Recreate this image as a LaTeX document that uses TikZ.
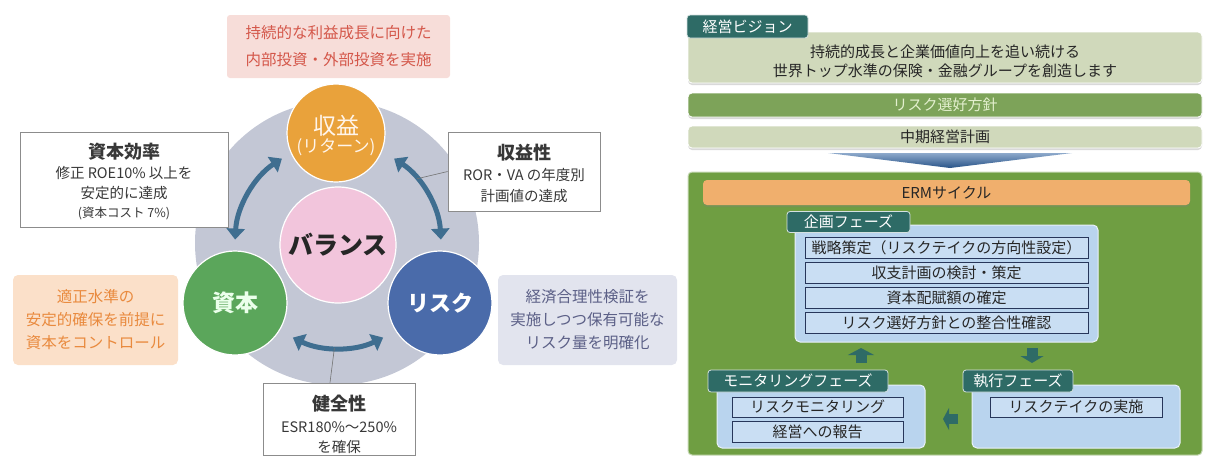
\documentclass[tikz,border=0pt]{standalone}
\usepackage{fontspec}
\setmainfont{Noto Sans CJK JP}
\usetikzlibrary{arrows.meta,shadows}
\definecolor{ringgray}{HTML}{C3C7D5}
\definecolor{retorange}{HTML}{E9A23B}
\definecolor{capgreen}{HTML}{5BA65B}
\definecolor{riskblue}{HTML}{4A6BAA}
\definecolor{balpink}{HTML}{F2C5DC}
\definecolor{arrblue}{HTML}{3F6E90}
\definecolor{pinkfill}{HTML}{F7DDD9}
\definecolor{pinktext}{HTML}{D4574A}
\definecolor{peachfill}{HTML}{FBE0C9}
\definecolor{peachtext}{HTML}{E98A3E}
\definecolor{slatefill}{HTML}{E2E4EE}
\definecolor{slatetext}{HTML}{5C6087}
\definecolor{boxtext}{HTML}{383838}
\definecolor{tabteal}{HTML}{2E6B66}
\definecolor{sage}{HTML}{D0D9BB}
\definecolor{olive}{HTML}{7DA359}
\definecolor{olivetext}{HTML}{E4F0CF}
\definecolor{ermgreen}{HTML}{6F9E42}
\definecolor{ermorange}{HTML}{F0AF6D}
\definecolor{panelblue}{HTML}{B9D4EE}
\definecolor{itemblue}{HTML}{C9DEF3}
\definecolor{navy}{HTML}{27365A}
\definecolor{chevblue}{HTML}{2F62A0}
\tikzset{
  disc/.style={circle, inner sep=0pt, draw=white, line width=1.2pt},
  cyc/.style={arrblue, line width=5pt, {Triangle[length=11pt,width=18pt]}-{Triangle[length=11pt,width=18pt]}},
  leader/.style={draw=black!55, line width=0.6pt},
  wbox/.style={draw=black!45, fill=white, line width=0.8pt, inner sep=0pt},
  wtext/.style={align=center, text=boxtext, inner sep=0pt},
  softbox/.style={rounded corners=5pt, align=center, inner sep=0pt},
  tabnode/.style={fill=tabteal, draw=white!80!tabteal, line width=0.8pt, rounded corners=3pt, text=white, inner sep=0pt, font=\fontsize{15}{15}\selectfont},
  bar/.style={rounded corners=4pt, draw=white, line width=0.8pt, inner sep=0pt, align=center, drop shadow={shadow xshift=0pt, shadow yshift=-2pt, opacity=0.3, fill=black!50}},
  panel/.style={fill=panelblue, draw=white!70!panelblue, line width=1pt, rounded corners=5pt, inner sep=0pt},
  item/.style={fill=itemblue, draw=navy, line width=0.9pt, inner sep=0pt, text=black!85, font=\fontsize{15}{15}\selectfont},
  blk/.style={tabteal, line width=11pt, -{Triangle[length=7pt,width=26pt]}}
}
\begin{document}
\begin{tikzpicture}[x=1pt,y=-1pt]
\useasboundingbox (0,0) rectangle (1225,456);
% ---------- left: balance diagram ----------
\node[circle, fill=ringgray, minimum size=284pt, inner sep=0pt] (ring) at (337,243) {};
\node[disc, fill=balpink, minimum size=116pt, font=\fontsize{25}{25}\selectfont\bfseries, text=black!85] (bal) at (338,245) {バランス};
\node[disc, fill=retorange, minimum size=98pt,
  label={[yshift=7pt, inner sep=0pt, font=\fontsize{23}{23}\selectfont, text=white!92!orange]center:収益},
  label={[yshift=-14pt, inner sep=0pt, font=\fontsize{17}{17}\selectfont, text=white!92!orange]center:(リターン)}] (ret) at (336,133) {};
\node[disc, fill=capgreen, minimum size=104pt, text=white!92!green, font=\fontsize{23}{23}\selectfont\bfseries] (cap) at (235,303) {資本};
\node[disc, fill=riskblue, minimum size=104pt, text=white, font=\fontsize{22}{22}\selectfont\bfseries] (risk) at (440,303) {リスク};
% curved arrows
\path (bal.center) ++(-123:103) coordinate (la);
\path (bal.center) ++(-57:103) coordinate (ra);
\path (bal.center) ++(116:103) coordinate (ba);
\draw[cyc] (la) arc[start angle=-123, end angle=-177, radius=103];
\draw[cyc] (ra) arc[start angle=-57, end angle=-3, radius=103];
\draw[cyc] (ba) arc[start angle=116, end angle=64, radius=103];
% boxes
\node[softbox, rounded corners=3pt, fill=pinkfill, text=pinktext, minimum width=223pt, minimum height=63pt, font=\fontsize{15.5}{27}\selectfont] (tbox) at (338.5,46.5)
  {持続的な利益成長に向けた\\内部投資・外部投資を実施};
\node[wbox, minimum width=208pt, minimum height=95pt,
  label={[wtext, yshift=-2pt, font=\fontsize{14.5}{19.5}\selectfont]center:{{\fontsize{18}{20}\selectfont\bfseries 資本効率}\\[1pt]修正 ROE10\% 以上を\\安定的に達成\\{\fontsize{12.5}{14}\selectfont (資本コスト 7\%)}}}] (ebox) at (124,179.5) {};
\node[wbox, minimum width=152pt, minimum height=79pt,
  label={[wtext, yshift=-2pt, font=\fontsize{14.5}{21}\selectfont]center:{{\fontsize{18}{20}\selectfont\bfseries 収益性}\\ROR・VA の年度別\\計画値の達成}}] (kbox) at (524,171.5) {};
\node[wbox, minimum width=152pt, minimum height=72pt,
  label={[wtext, yshift=-5pt, font=\fontsize{14.5}{20}\selectfont]center:{{\fontsize{18}{20}\selectfont\bfseries 健全性}\\[2pt]ESR180\%～250\%\\を確保}}] (zbox) at (339,419) {};
\node[softbox, fill=peachfill, text=peachtext, minimum width=165pt, minimum height=90pt, font=\fontsize{15.5}{23}\selectfont] (obox) at (95.5,320)
  {適正水準の\\安定的確保を前提に\\資本をコントロール};
\node[softbox, fill=slatefill, text=slatetext, minimum width=179pt, minimum height=90pt, font=\fontsize{15.5}{23}\selectfont] (sbox) at (587.5,320)
  {経済合理性検証を\\実施しつつ保有可能な\\リスク量を明確化};
% leader lines
\path (bal.center) ++(-40:103) coordinate (lk);
\path (bal.center) ++(92:103) coordinate (lz);
\draw[leader] (lk) -- (kbox.west);
\draw[leader] (lz) -- ([xshift=-9pt]zbox.north);
% ---------- right: ERM ----------
\node[bar, fill=sage, minimum width=514pt, minimum height=51pt,
  label={[yshift=-3.5pt, inner sep=0pt, align=center, font=\fontsize{15}{19}\selectfont, text=black!85]center:{持続的成長と企業価値向上を追い続ける\\世界トップ水準の保険・金融グループを創造します}}] (vbox) at (945,57.5) {};
\node[tabnode, minimum width=121pt, minimum height=23pt] (vtab) at (747.5,26.5) {経営ビジョン};
\node[bar, fill=olive, minimum width=514pt, minimum height=24pt, text=olivetext, font=\fontsize{15}{15}\selectfont] (rbar) at (945,105) {リスク選好方針};
\node[bar, fill=sage, minimum width=514pt, minimum height=22pt, text=black!85, font=\fontsize{15}{15}\selectfont] (mbar) at (945,137) {中期経営計画};
\coordinate (chl) at (828,153);
\coordinate (chr) at (1072,153);
\coordinate (cht) at (950,168);
\shade[top color=chevblue!55!white, bottom color=chevblue!85!black] (chl) -- (chr) -- (cht) -- cycle;
\node[fill=ermgreen, draw=white!60!ermgreen, line width=1pt, rounded corners=4pt, minimum width=514pt, minimum height=283pt, inner sep=0pt] (ebig) at (945,313.5) {};
\node[bar, fill=ermorange, draw=none, minimum width=487pt, minimum height=25pt, text=black!85, font=\fontsize{15}{15}\selectfont] (erm) at (946.5,192.5) {ERMサイクル};
% planning phase
\node[panel, minimum width=303pt, minimum height=117pt] (ppanel) at (946.5,283.5) {};
\node[tabnode, minimum width=123pt, minimum height=21pt] (ptab) at (848.5,222) {企画フェーズ};
\node[item, minimum width=283pt, minimum height=21pt] (p1) at (946.5,247.5) {戦略策定（リスクテイクの方向性設定）};
\node[item, minimum width=283pt, minimum height=21pt] (p2) at (946.5,272.7) {収支計画の検討・策定};
\node[item, minimum width=283pt, minimum height=21pt] (p3) at (946.5,297.9) {資本配賦額の確定};
\node[item, minimum width=283pt, minimum height=21pt] (p4) at (946.5,323.1) {リスク選好方針との整合性確認};
% monitoring phase
\node[panel, minimum width=208pt, minimum height=63pt] (mpanel) at (821,416.5) {};
\node[tabnode, minimum width=180pt, minimum height=22pt] (mtab) at (798,381) {モニタリングフェーズ};
\node[item, minimum width=171pt, minimum height=20pt] (m1) at (817.5,407) {リスクモニタリング};
\node[item, minimum width=171pt, minimum height=21pt] (m2) at (817.5,431.5) {経営への報告};
% execution phase
\node[panel, minimum width=208pt, minimum height=63pt] (xpanel) at (1076,416.5) {};
\node[tabnode, minimum width=110pt, minimum height=22pt] (xtab) at (1018,381) {執行フェーズ};
\node[item, minimum width=172pt, minimum height=20pt] (x1) at (1076,407) {リスクテイクの実施};
% cycle arrows
\coordinate (u0) at (861,363);
\coordinate (u1) at (861,348);
\coordinate (d0) at (1032,348);
\coordinate (d1) at (1032,363);
\coordinate (l0) at (958,419);
\coordinate (l1) at (943,419);
\draw[blk] (u0) -- (u1);
\draw[blk, -{Triangle[length=7pt,width=23pt]}] (d0) -- (d1);
\draw[blk, line width=10pt, -{Triangle[length=6pt,width=22pt]}] (l0) -- (l1);
\end{tikzpicture}
\end{document}
